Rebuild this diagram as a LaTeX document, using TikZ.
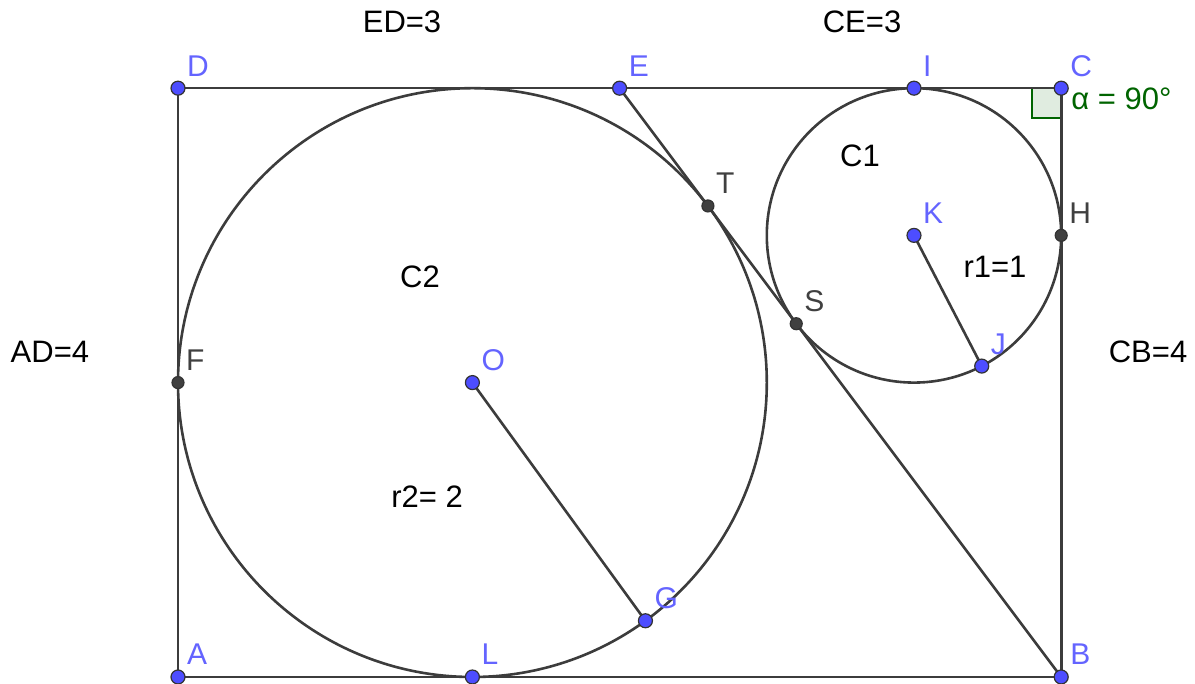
\documentclass[tikz,border=0pt]{standalone}
\usepackage{fontspec}
\setmainfont{Liberation Sans}
\usetikzlibrary{calc}
\definecolor{lineg}{RGB}{60,60,60}
\definecolor{ptblue}{RGB}{77,77,255}
\definecolor{lblblue}{RGB}{100,100,255}
\definecolor{ptdark}{RGB}{64,64,64}
\definecolor{anggreen}{RGB}{0,100,0}
\tikzset{
  geo/.style={draw=lineg, line width=2.6pt},
  bluept/.style={circle, fill=ptblue, draw=black!80, line width=1.2pt, inner sep=0pt, minimum size=14pt},
  darkpt/.style={circle, fill=ptdark, draw=black!80, line width=1.2pt, inner sep=0pt, minimum size=12pt},
  bluelbl/.style={anchor=base west, text=lblblue, inner sep=0pt, font=\fontsize{30}{34}\selectfont},
  darklbl/.style={anchor=base west, text=ptdark, inner sep=0pt, font=\fontsize{30}{34}\selectfont},
  txt/.style={text=black, inner sep=0pt, font=\fontsize{31}{36}\selectfont},
}
\begin{document}
\begin{tikzpicture}[x=147.2pt, y=147.2pt]
\useasboundingbox (-178pt,-7pt) rectangle (1017pt,677pt);
% points
\coordinate (A) at (0,0);
\coordinate (B) at (6,0);
\coordinate (C) at (6,4);
\coordinate (D) at (0,4);
\coordinate (E) at (3,4);
\coordinate (O) at (2,2);
\coordinate (K) at (5,3);
\coordinate (T) at (3.6,3.2);
\coordinate (S) at (4.2,2.4);
\coordinate (F) at (0,2);
\coordinate (L) at (2,0);
\coordinate (H) at (6,3);
\coordinate (I) at (5,4);
\coordinate (G) at ($(O)+(-54:2)$);
\coordinate (J) at ($(K)+(-62.6:1)$);
% right angle marker
\draw[draw=anggreen, fill=anggreen!12, line width=2pt] (C) rectangle ($(C)+(-0.2,-0.2)$);
% figure
\draw[geo] (A) -- (B) -- (C) -- (D) -- cycle;
\draw[geo] (O) circle[radius=2];
\draw[geo] (K) circle[radius=1];
\draw[geo] (E) -- (B);
\draw[geo] (O) -- (G);
\draw[geo] (K) -- (J);
% point markers
\foreach \p in {A,B,C,D,E,O,K,G,J,I,L}{\node[bluept] (m\p) at (\p) {};}
\foreach \p in {T,S,F,H}{\node[darkpt] (m\p) at (\p) {};}
% point labels
\foreach \p in {A,B,C,D,E,O,K,G,J,I,L}{\node[bluelbl] (l\p) at ($(\p)+(9pt,12pt)$) {\p};}
\foreach \p in {T,S,F,H}{\node[darklbl] (l\p) at ($(\p)+(8pt,12pt)$) {\p};}
% texts
\node[txt] (ed) at (1.522,4.450) {ED=3};
\node[txt] (ce) at (4.647,4.450) {CE=3};
\node[txt] (ad) at (-0.870,2.208) {AD=4};
\node[txt] (cb) at (6.590,2.208) {CB=4};
\node[txt] (c2) at (1.644,2.717) {C2};
\node[txt] (r2) at (1.692,1.223) {r2= 2};
\node[txt] (c1) at (4.633,3.539) {C1};
\node[txt] (r1) at (5.550,2.785) {r1=1};
\node[txt, anchor=west, text=anggreen] (alpha) at ($(C)+(10pt,-11pt)$) {α = 90°};
\end{tikzpicture}
\end{document}
